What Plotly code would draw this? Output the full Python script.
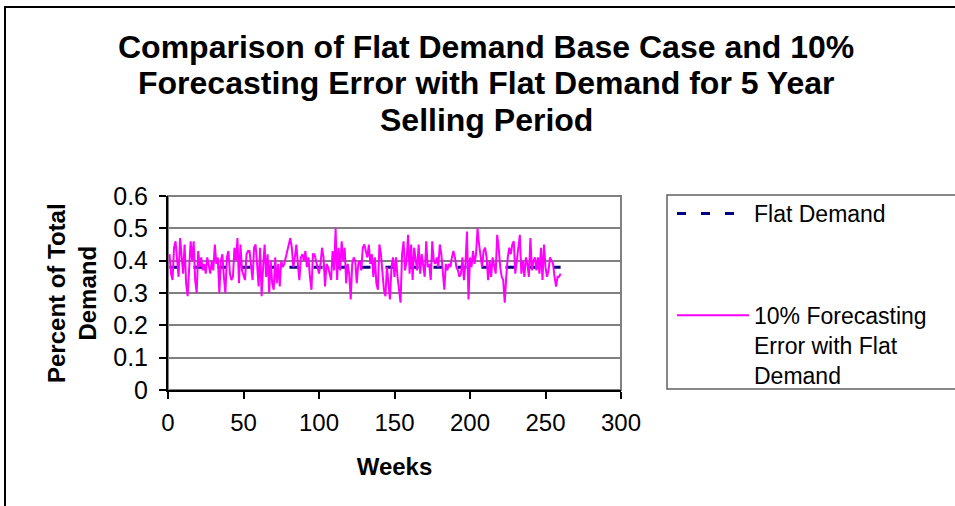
import plotly.graph_objects as go

# ---------------- data ----------------
weeks = list(range(1, 261))
forecast_error = [
    0.42, 0.36, 0.34, 0.44, 0.46, 0.40, 0.35, 0.47, 0.42, 0.36,
    0.45, 0.33, 0.29, 0.38, 0.46, 0.40, 0.46, 0.34, 0.30, 0.43,
    0.38, 0.41, 0.37, 0.39, 0.36, 0.41, 0.38, 0.36, 0.40, 0.37,
    0.45, 0.39, 0.41, 0.30, 0.40, 0.42, 0.35, 0.30, 0.41, 0.43,
    0.36, 0.34, 0.35, 0.44, 0.40, 0.47, 0.33, 0.45, 0.37, 0.35,
    0.34, 0.42, 0.43, 0.43, 0.38, 0.34, 0.44, 0.45, 0.39, 0.32,
    0.44, 0.29, 0.38, 0.45, 0.35, 0.42, 0.30, 0.40, 0.33, 0.31,
    0.41, 0.33, 0.39, 0.32, 0.40, 0.38, 0.39, 0.41, 0.43, 0.44,
    0.47, 0.44, 0.38, 0.41, 0.45, 0.39, 0.34, 0.41, 0.42, 0.40,
    0.43, 0.38, 0.41, 0.35, 0.31, 0.42, 0.42, 0.40, 0.38, 0.36,
    0.39, 0.44, 0.41, 0.32, 0.39, 0.38, 0.36, 0.34, 0.43, 0.37,
    0.50, 0.34, 0.44, 0.37, 0.46, 0.40, 0.44, 0.33, 0.39, 0.36,
    0.28, 0.39, 0.41, 0.40, 0.33, 0.39, 0.40, 0.37, 0.44, 0.45,
    0.43, 0.41, 0.45, 0.39, 0.42, 0.35, 0.41, 0.33, 0.31, 0.45,
    0.42, 0.35, 0.31, 0.29, 0.38, 0.33, 0.28, 0.38, 0.41, 0.35,
    0.41, 0.35, 0.30, 0.27, 0.42, 0.46, 0.37, 0.40, 0.48, 0.36,
    0.45, 0.34, 0.44, 0.41, 0.37, 0.45, 0.36, 0.42, 0.38, 0.35,
    0.46, 0.38, 0.39, 0.34, 0.46, 0.40, 0.39, 0.41, 0.38, 0.45,
    0.42, 0.36, 0.31, 0.39, 0.37, 0.39, 0.38, 0.41, 0.43, 0.41,
    0.38, 0.37, 0.35, 0.36, 0.41, 0.34, 0.39, 0.49, 0.28, 0.41,
    0.38, 0.43, 0.39, 0.42, 0.50, 0.45, 0.41, 0.38, 0.43, 0.44,
    0.41, 0.34, 0.40, 0.35, 0.41, 0.38, 0.36, 0.48, 0.44, 0.38,
    0.35, 0.34, 0.27, 0.35, 0.41, 0.44, 0.42, 0.45, 0.46, 0.36,
    0.40, 0.45, 0.48, 0.36, 0.40, 0.35, 0.41, 0.39, 0.35, 0.47,
    0.37, 0.40, 0.41, 0.37, 0.41, 0.36, 0.44, 0.34, 0.45, 0.38,
    0.35, 0.37, 0.41, 0.40, 0.39, 0.35, 0.32, 0.35, 0.35, 0.36,
]
flat_weeks = [1, 260]
flat_demand = [0.38, 0.38]

x_ticks = [0, 50, 100, 150, 200, 250, 300]
y_ticks = [0, 0.1, 0.2, 0.3, 0.4, 0.5, 0.6]
y_tick_labels = ["0", "0.1", "0.2", "0.3", "0.4", "0.5", "0.6"]

title_lines = ["Comparison of Flat Demand Base Case and 10%",
               "Forecasting Error with Flat Demand for 5 Year",
               "Selling Period"]

FONT = "Liberation Sans, Arial, sans-serif"

fig = go.Figure()
fig.add_trace(go.Scatter(
    x=flat_weeks, y=flat_demand, mode="lines", name="Flat Demand",
    legendgroup="a",
    line=dict(color="#000080", width=3, dash="9px,15px"),
))
fig.add_trace(go.Scatter(
    x=weeks, y=forecast_error, mode="lines",
    name="10% Forecasting<br>Error with Flat<br>Demand",
    legendgroup="b",
    line=dict(color="#FF00FF", width=2),
))

W, H = 955, 506
L, R, T, B = 168, 334, 196, 116
pw = W - L - R
ph = H - T - B

def px_to_paper_x(px):
    return (px - L) / pw

def px_to_paper_y(py):
    return (H - B - py) / ph

title_annotations = [
    dict(text="<b>" + line + "</b>", xref="paper", yref="paper",
         x=px_to_paper_x(486), y=px_to_paper_y(cy), xanchor="center",
         yanchor="middle", showarrow=False,
         font=dict(size=32, family=FONT, color="black"))
    for line, cy in zip(title_lines, [47, 83, 120])
]

fig.update_layout(
    width=W, height=H,
    margin=dict(l=L, r=R, t=T, b=B, autoexpand=False),
    paper_bgcolor="white", plot_bgcolor="white",
    font=dict(family=FONT, color="black", size=24),
    xaxis=dict(range=[0, 300], tickvals=x_ticks, ticks="outside", ticklen=7,
               tickcolor="black", tickwidth=1.5,
               showline=True, linecolor="black", linewidth=2, showgrid=False,
               zeroline=False, tickfont=dict(size=24), ticklabelstandoff=3,
               title=dict(text="<b>Weeks</b>", standoff=23,
                          font=dict(size=24))),
    yaxis=dict(range=[0, 0.6], tickvals=y_ticks, ticktext=y_tick_labels,
               ticks="outside", ticklen=7, tickcolor="black", tickwidth=1.5,
               showline=True, linecolor="black", linewidth=2,
               showgrid=True, gridcolor="#808080", gridwidth=2,
               zeroline=False, tickfont=dict(size=25), ticklabelstandoff=6),
    showlegend=True,
    legend=dict(x=px_to_paper_x(672), xanchor="left",
                y=px_to_paper_y(192), yanchor="top",
                bgcolor="rgba(0,0,0,0)", borderwidth=0,
                font=dict(size=23, family=FONT),
                tracegroupgap=69, valign="top", itemwidth=72,
                traceorder="grouped"),
    shapes=[
        # outer chart frame
        dict(type="rect", xref="paper", yref="paper",
             x0=px_to_paper_x(5), x1=px_to_paper_x(975),
             y0=px_to_paper_y(520), y1=px_to_paper_y(7),
             line=dict(color="black", width=2), layer="below"),
        # plot-area border
        dict(type="rect", xref="paper", yref="paper", x0=0, x1=1, y0=0, y1=1,
             line=dict(color="#808080", width=2), layer="below"),
        # legend box
        dict(type="rect", xref="paper", yref="paper",
             x0=px_to_paper_x(667), x1=px_to_paper_x(975),
             y0=px_to_paper_y(389), y1=px_to_paper_y(195),
             line=dict(color="#606060", width=1.5), layer="below"),
    ],
    annotations=title_annotations + [
        dict(text="<b>Percent of Total<br>Demand</b>", textangle=-90,
             xref="paper", yref="paper", x=px_to_paper_x(72), y=0.5,
             xanchor="center", yanchor="middle", showarrow=False,
             font=dict(size=24, family=FONT, color="black")),
    ],
)

fig.write_html("out.html",
               config={"displayModeBar": False},
               post_script="document.body.style.margin='0';"
                           "document.body.style.overflow='hidden';")
